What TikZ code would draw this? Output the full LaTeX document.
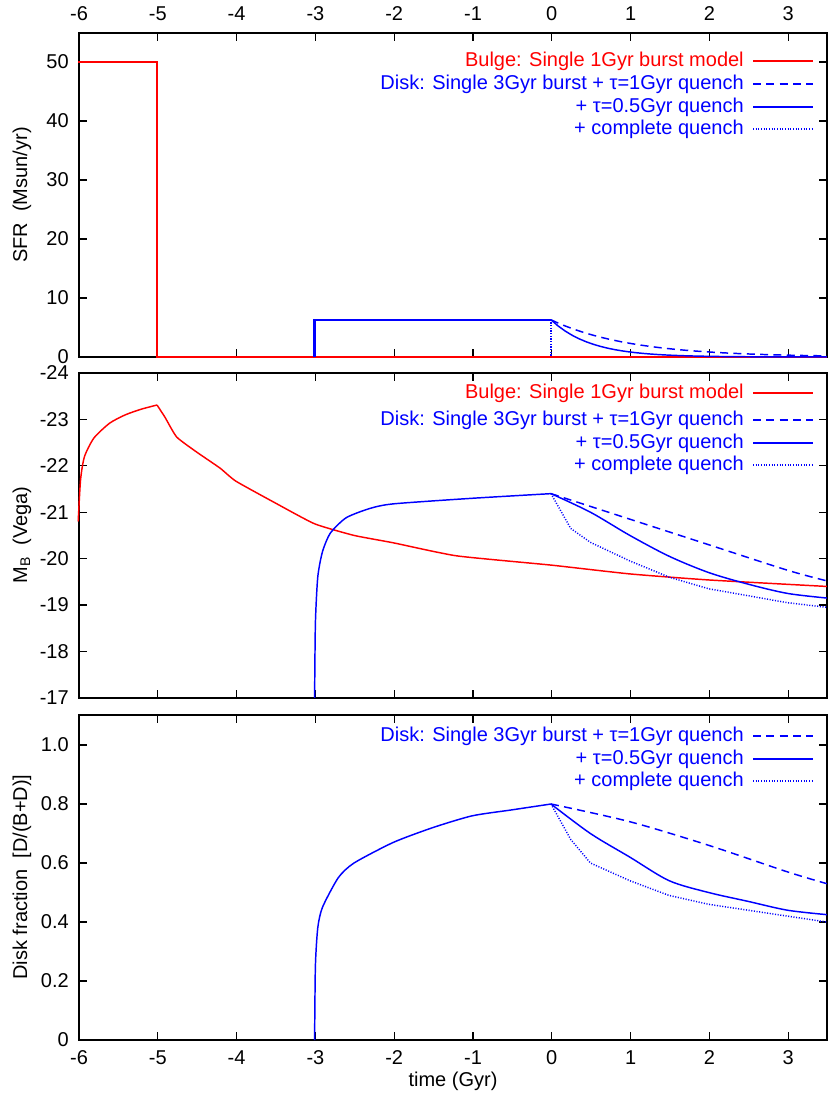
\documentclass[tikz,border=0pt]{standalone}
\usepackage{fontspec}
\setmainfont{Liberation Sans}
\usepackage{tikz}

\begin{document}
\begin{tikzpicture}[x=0.75pt,y=0.75pt,yscale=-1,xscale=1,
  lbl/.style={font=\fontsize{15}{17}\selectfont,inner sep=0.75pt},
  bl/.style={color=blue,line width=1.1pt},
  rd/.style={color=red,line width=1.1pt},
  dsh/.style={dash pattern=on 6pt off 4pt},
  dts/.style={dash pattern=on 0.8pt off 1.2pt},
  frame/.style={line width=1pt},
  tck/.style={line width=0.8pt}]
\useasboundingbox (0,0) rectangle (830,1095);

% Frames of the three panels
\draw[frame] (79,33) rectangle (827,357);
\draw[frame] (79,373) rectangle (827,698);
\draw[frame] (79,715) rectangle (827,1040);

% x ticks, top and bottom of every panel
\foreach \t in {-5,...,3}{
  \foreach \ya/\yb in {33/357,373/698,715/1040}{
    \draw[tck] ({79+(\t+6)*78.8},\ya) -- ++(0,8);
    \draw[tck] ({79+(\t+6)*78.8},\yb) -- ++(0,-8);
  }
}
\foreach \t in {-6,...,3}{
  \node[lbl] (xt\t) at ({79+(\t+6)*78.8},14) {\t};
  \node[lbl] (xb\t) at ({79+(\t+6)*78.8},1058) {\t};
}
\node[lbl] (xlabel) at (453,1081) {time (Gyr)};

% y ticks
\foreach \v in {0,10,...,50}{
  \draw[tck] (79,{357-\v*5.9}) -- ++(8,0);
  \draw[tck] (827,{357-\v*5.9}) -- ++(-8,0);
  \node[lbl,anchor=east] (ya\v) at (70,{357-\v*5.9}) {\v};
}
\foreach \v in {17,...,24}{
  \draw[tck] (79,{373+(24-\v)*46.4}) -- ++(8,0);
  \draw[tck] (827,{373+(24-\v)*46.4}) -- ++(-8,0);
  \node[lbl,anchor=east] (yb\v) at (70,{373+(24-\v)*46.4}) {-\v};
}
\foreach \v/\s in {0/0,0.2/0.2,0.4/0.4,0.6/0.6,0.8/0.8,1/1.0}{
  \draw[tck] (79,{1040-\v*295}) -- ++(8,0);
  \draw[tck] (827,{1040-\v*295}) -- ++(-8,0);
  \node[lbl,anchor=east] (yc\s) at (70,{1040-\v*295}) {\s};
}
\node[lbl,rotate=90] (ylab1) at (22,195) {SFR\ \ (Msun/yr)};
\node[lbl,rotate=90] (ylab2) at (22,535) {M\textsubscript{B}\ \ (Vega)};
\node[lbl,rotate=90] (ylab3) at (22,877) {Disk fraction\ \ [D/(B+D)]};

% Top panel: star formation rate
\begin{scope}[shift={(551,357)},x=59.1pt,y=-4.425pt]
  \draw[rd] (-6,50) -- (-5,50) -- (-5,0) -- (3.5,0);
  \draw[bl,line width=1.8pt] (-3,0) -- (-3,6.3) -- (0,6.3);
  \draw[bl,dsh] plot[domain=0:3.5,samples=40] (\x,{6.3*exp(-\x)});
  \draw[bl] plot[domain=0:3.5,samples=40] (\x,{6.3*exp(-\x/0.5)});
  \draw[bl,dts] (0,6.3) -- (0,0);
\end{scope}

% Middle panel: B magnitude
\begin{scope}[shift={(551,1486.6)},x=59.1pt,y=34.8pt]
  \draw[rd] plot[smooth,tension=0.4] coordinates {(-6,-20.8) (-5.97,-21.7) (-5.92,-22.2) (-5.8,-22.6) (-5.6,-22.92) (-5.4,-23.1) (-5.2,-23.22) (-5,-23.31)};
  \draw[rd] plot[smooth,tension=0.3] coordinates {(-5,-23.31) (-4.9,-23.05) (-4.75,-22.62) (-4.5,-22.3) (-4.2,-21.95) (-4,-21.67) (-3.5,-21.2) (-3,-20.75) (-2.5,-20.5) (-2,-20.34) (-1.2,-20.06) (0,-19.86) (1,-19.67) (2,-19.54) (3.5,-19.4)};
  \draw[bl] plot[smooth,tension=0.4] coordinates {(-3,-17) (-2.99,-18.6) (-2.96,-19.6) (-2.9,-20.15) (-2.8,-20.55) (-2.6,-20.88) (-2.3,-21.08) (-2,-21.18) (-1,-21.3) (0,-21.4)};
  \draw[bl,dsh] plot[smooth] coordinates {(0,-21.4) (1,-20.85) (2,-20.3) (3,-19.75) (3.5,-19.52)};
  \draw[bl] plot[smooth] coordinates {(0,-21.4) (0.5,-21.0) (1,-20.5) (1.5,-20.05) (2,-19.7) (2.5,-19.45) (3,-19.25) (3.5,-19.15)};
  \draw[bl,dts] plot coordinates {(0,-21.4) (0.1,-21.1) (0.25,-20.65) (0.5,-20.35) (1,-19.95) (1.5,-19.6) (2,-19.35) (2.5,-19.2) (3,-19.05) (3.5,-18.95)};
\end{scope}

% Bottom panel: disk fraction
\begin{scope}[shift={(551,1040)},x=59.1pt,y=-221.25pt]
  \draw[bl] plot[smooth,tension=0.4] coordinates {(-3,0) (-2.99,0.25) (-2.96,0.38) (-2.9,0.45) (-2.7,0.55) (-2.5,0.6) (-2,0.67) (-1.5,0.72) (-1,0.76) (-0.5,0.78) (0,0.8)};
  \draw[bl,dsh] plot[smooth] coordinates {(0,0.8) (1,0.74) (2,0.66) (3,0.57) (3.5,0.53)};
  \draw[bl] plot[smooth] coordinates {(0,0.8) (0.5,0.7) (1,0.62) (1.5,0.54) (2,0.5) (2.5,0.47) (3,0.44) (3.5,0.425)};
  \draw[bl,dts] plot coordinates {(0,0.8) (0.25,0.68) (0.5,0.6) (1,0.54) (1.5,0.49) (2,0.46) (2.5,0.44) (3,0.42) (3.5,0.40)};
\end{scope}

% Legends
\foreach \p/\y in {a/61,b/393}{
  \node[lbl,anchor=east,text=red] (bulge\p) at (745,\y) {Bulge: Single 1Gyr burst model};
  \draw[rd] (753,\y) -- (813,\y);
}
\foreach \p/\y in {a/84,b/420,c/736}{
  \node[lbl,anchor=east,text=blue] (tau1\p) at (745,\y) {Disk: Single 3Gyr burst + τ=1Gyr quench};
  \draw[bl,dsh] (753,\y) -- (813,\y);
  \node[lbl,anchor=east,text=blue] (tau05\p) at (745,\y+23) {+ τ=0.5Gyr quench};
  \draw[bl] (753,\y+23) -- (813,\y+23);
  \node[lbl,anchor=east,text=blue] (full\p) at (745,\y+45) {+ complete quench};
  \draw[bl,dts] (753,\y+45) -- (813,\y+45);
}
\end{tikzpicture}
\end{document}
